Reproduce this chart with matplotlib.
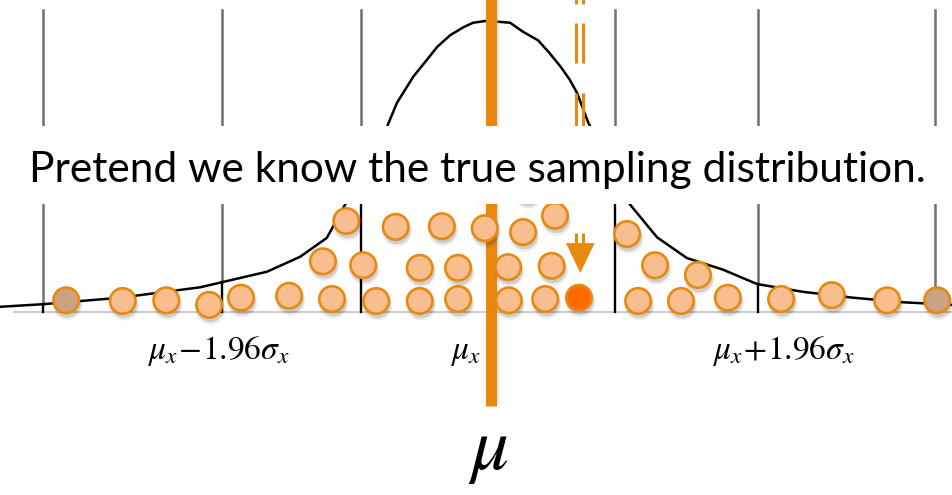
import numpy as np
import matplotlib
matplotlib.use('Agg')
import matplotlib.pyplot as plt
from matplotlib.patches import Circle, Polygon, Rectangle

# x: sample mean in sigma units from mu, y: stack height (same units)
curve_x = [-7.51, -6.85, -5.66, -4.43, -3.40, -2.89, -2.48, -2.20, -1.55, -1.40,
           -1.15, -0.94, -0.78, -0.58, -0.38, -0.23, -0.02, 0.34, 0.54, 0.77,
           0.95, 1.12, 1.26, 1.37, 1.54, 2.18, 2.60, 3.06, 3.62, 4.14,
           4.85, 5.62, 6.38, 7.15]
curve_y = [0.08, 0.12, 0.22, 0.38, 0.62, 0.85, 1.14, 1.65, 2.86, 3.22,
           3.62, 3.88, 4.08, 4.26, 4.38, 4.45, 4.48, 4.45, 4.31, 4.18,
           3.98, 3.77, 3.57, 3.37, 2.92, 1.66, 1.15, 0.83, 0.65, 0.43,
           0.31, 0.22, 0.15, 0.11]

grid_x = [-6.85, -4.09, -1.95, 1.95, 4.15, 6.88]

# sample means that fell in the tails (drawn tan at the extremes)
tail_x = [-6.49, 6.91]
tail_y = [0.18, 0.18]

# ordinary sample means
mean_x = [-5.62, -4.95, -4.29, -3.80, -3.06, -2.40, -1.72, -1.05, -0.46, 0.32,
          0.88, 2.31, 2.97, 3.69, 4.51, 5.29, 6.14,
          -2.54, -1.92, -1.05, -0.46, 0.31, 0.98, 2.57, 3.23,
          -2.18, -1.42, -0.71, -0.05, 0.54, 1.03, 2.14]
mean_y = [0.17, 0.18, 0.11, 0.22, 0.25, 0.20, 0.17, 0.17, 0.20, 0.18,
          0.20, 0.17, 0.17, 0.22, 0.20, 0.26, 0.18,
          0.78, 0.72, 0.68, 0.68, 0.69, 0.71, 0.72, 0.57,
          1.40, 1.31, 1.32, 1.29, 1.23, 1.48, 1.20]

# means stacked behind the caption
hidden_x = [-1.51, -0.85, -0.15, 0.60, 1.29]
hidden_y = [1.98, 1.98, 1.95, 1.89, 1.95]

# the newest sample mean
new_x = [1.40]
new_y = [0.22]

label_x = [-4.15, -0.34, 4.54]
label_txt = [r'$\mu_x\!-\!1.96\sigma_x$', r'$\mu_x$', r'$\mu_x\!+\!1.96\sigma_x$']

caption = 'Pretend we know the true sampling distribution.'

ORANGE = '#E8890F'
PEACH = '#F8BE8F'
TAN = '#C9A382'

plt.rcParams['mathtext.fontset'] = 'stix'

fig = plt.figure(figsize=(9.53, 4.95), dpi=100)
ax = fig.add_axes([0, 0, 1, 1])
ax.set_xlim(-7.508, 7.154)
ax.set_ylim(-2.815, 4.80)
ax.axis('off')

# baseline
ax.plot([-7.29, 7.2], [0, 0], color='#C4C4C4', lw=1.2, zorder=1)

# grid lines: black under the curve, gray above it
top = 4.65
for gx in grid_x:
    cy = np.interp(gx, curve_x, curve_y)
    ax.plot([gx, gx], [cy, top], color='#707070', lw=1.8, zorder=1)
    ax.plot([gx, gx], [0, cy], color='black', lw=1.7, zorder=1)

ax.plot(curve_x, curve_y, color='black', lw=1.8, zorder=2, solid_joinstyle='round')

# true mean line
ax.plot([0.07, 0.07], [-1.42, 4.8], color='#BBBBBB', lw=8, alpha=0.35, zorder=2.5,
        solid_capstyle='butt')
ax.plot([0.04, 0.04], [-1.45, 4.9], color=ORANGE, lw=8, zorder=3, solid_capstyle='butt')

r = 0.196


def dots(xs, ys, face, z):
    for x, y in zip(xs, ys):
        ax.add_patch(Circle((x + 0.02, y - 0.07), r + 0.035, color='black',
                            alpha=0.07, lw=0, zorder=z - 0.1))
        ax.add_patch(Circle((x + 0.02, y - 0.06), r + 0.01, color='black',
                            alpha=0.13, lw=0, zorder=z - 0.1))
        ax.add_patch(Circle((x, y), r, facecolor=face, edgecolor=ORANGE,
                            lw=1.9, zorder=z))


dots(hidden_x, hidden_y, PEACH, 4)
dots(tail_x, tail_y, TAN, 4)
dots(mean_x, mean_y, PEACH, 4)
dots(new_x, new_y, '#FF6A00', 4)

# falling arrow trail
for y0, y1 in [(5.2, 4.74), (4.45, 3.83), (3.37, 2.70), (1.22, 1.06)]:
    for bx in [1.355, 1.455]:
        ax.plot([bx, bx], [y0, y1], color=ORANGE, lw=2.2, zorder=5,
                solid_capstyle='butt')
ax.add_patch(Polygon([(1.20, 1.06), (1.64, 1.06), (1.42, 0.60)],
                     closed=True, color=ORANGE, lw=0, zorder=5))

# caption banner
ax.add_patch(Rectangle((-7.6, 1.66), 15.0, 1.20, facecolor='white',
                       edgecolor='none', zorder=8))
ax.text(-0.17, 2.0, caption, fontsize=30.6, family='Lato', ha='center',
        va='baseline', color='black', zorder=9)

for lx, lt in zip(label_x, label_txt):
    ax.text(lx, -0.60, lt, fontsize=24, ha='center', va='center', zorder=6)

ax.text(0.0, -2.12, r'$\mu$', fontsize=54, ha='center', va='center', zorder=6)

fig.savefig('out.png', dpi=100)
